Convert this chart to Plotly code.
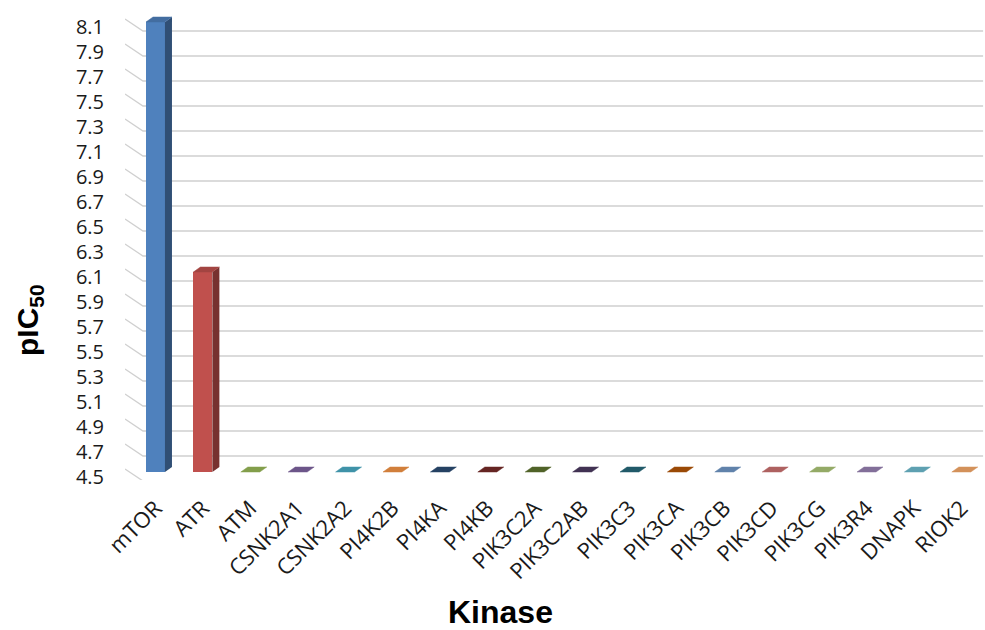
import plotly.graph_objects as go

# pIC50 per kinase
kinases = ["mTOR", "ATR", "ATM", "CSNK2A1", "CSNK2A2", "PI4K2B", "PI4KA", "PI4KB",
           "PIK3C2A", "PIK3C2AB", "PIK3C3", "PIK3CA", "PIK3CB", "PIK3CD", "PIK3CG",
           "PIK3R4", "DNAPK", "RIOK2"]
pic50 = [8.1, 6.1, 4.5, 4.5, 4.5, 4.5, 4.5, 4.5, 4.5, 4.5, 4.5, 4.5, 4.5, 4.5, 4.5,
         4.5, 4.5, 4.5]
colors = ["#4F81BD", "#C0504D", "#9BBB59", "#8064A2", "#4BACC6", "#F79646",
          "#2C4D75", "#772C2A", "#5F7530", "#4D3B62", "#276A7C", "#B65708",
          "#729ACA", "#CD7371", "#AFC97A", "#9983B5", "#6FBDD1", "#F9AB6B"]
y_ticks = [4.5, 4.7, 4.9, 5.1, 5.3, 5.5, 5.7, 5.9, 6.1, 6.3, 6.5, 6.7, 6.9, 7.1,
           7.3, 7.5, 7.7, 7.9, 8.1]

BASE = 4.5
X_MIN, X_MAX = -0.643, 17.5
Y_MIN, Y_MAX = 4.436, 8.236
BAR_W = 0.40          # front face width (category units)
DX, DY = 0.148, 0.04  # bar depth offset
WALL_X, WALL_DY = -0.264, -0.072   # back wall left edge and vertical shift
FRONT_DY = 0.024                   # front edge vertical shift
GRID_RIGHT = 17.46


def shade(hex_color, f):
    h = hex_color.lstrip("#")
    r, g, b = (int(h[i:i + 2], 16) for i in (0, 2, 4))
    return "#%02X%02X%02X" % (int(r * f), int(g * f), int(b * f))


fig = go.Figure()

# gridlines: short diagonal from the front edge, then along the back wall
shapes = []
for v in y_ticks:
    shapes.append(dict(type="path", xref="x", yref="y", layer="below",
                       path="M %f,%f L %f,%f L %f,%f" % (X_MIN, v + FRONT_DY, WALL_X, v + WALL_DY,
                                                         GRID_RIGHT, v + WALL_DY),
                       line=dict(color="#D0D0D0", width=1.3)))

# front faces
for i, (k, v, c) in enumerate(zip(kinases, pic50, colors)):
    if v > BASE:
        fig.add_trace(go.Bar(x=[i], y=[v - BASE], base=BASE, width=BAR_W,
                             marker=dict(color=c, line=dict(width=0)),
                             showlegend=False, name=k))

# side and top faces
for i, (v, c) in enumerate(zip(pic50, colors)):
    l, r = i - BAR_W / 2, i + BAR_W / 2
    if v > BASE:
        fig.add_trace(go.Scatter(
            x=[r, r + DX, r + DX, r, r], y=[BASE, BASE + DY, v + DY, v, BASE],
            fill="toself", fillcolor=shade(c, 0.62), mode="lines",
            line=dict(width=0, color=shade(c, 0.62)), hoverinfo="skip", showlegend=False))
    fig.add_trace(go.Scatter(
        x=[l, r, r + DX, l + DX, l], y=[v, v, v + DY, v + DY, v],
        fill="toself", fillcolor=shade(c, 0.85), mode="lines",
        line=dict(width=0.5, color=shade(c, 0.85)), hoverinfo="skip", showlegend=False))

fig.update_layout(
    width=985, height=630,
    margin=dict(l=125, r=0, t=5, b=150),
    plot_bgcolor="white", paper_bgcolor="white",
    bargap=0,
    shapes=shapes,
    xaxis=dict(range=[X_MIN, X_MAX], tickmode="array", tickvals=list(range(len(kinases))),
               ticktext=kinases, tickangle=-45, showgrid=False, zeroline=False,
               showline=False, ticks="", ticklabelstandoff=10,
               tickfont=dict(family="Open Sans", size=22, color="#1A1A1A")),
    yaxis=dict(range=[Y_MIN, Y_MAX], tickmode="array", tickvals=y_ticks,
               ticktext=["%.1f" % t for t in y_ticks], showgrid=False, zeroline=False,
               showline=False, ticks="", ticklabelshift=5, ticklabelstandoff=20,
               tickfont=dict(family="Open Sans", size=20, color="#1A1A1A")),
    annotations=[
        dict(text="<b>Kinase</b>", xref="paper", yref="paper",
             x=(500 - 125) / 860, y=(480 - 612) / 475, xanchor="center", yanchor="middle",
             showarrow=False, font=dict(family="Liberation Sans", size=32, color="black")),
        dict(text="<b>pIC<sub>50</sub></b>", xref="paper", yref="paper",
             x=(29 - 125) / 860, y=(480 - 320) / 475, xanchor="center", yanchor="middle",
             showarrow=False, textangle=-90,
             font=dict(family="Liberation Sans", size=30, color="black")),
    ],
)

fig.write_html("out.html")
